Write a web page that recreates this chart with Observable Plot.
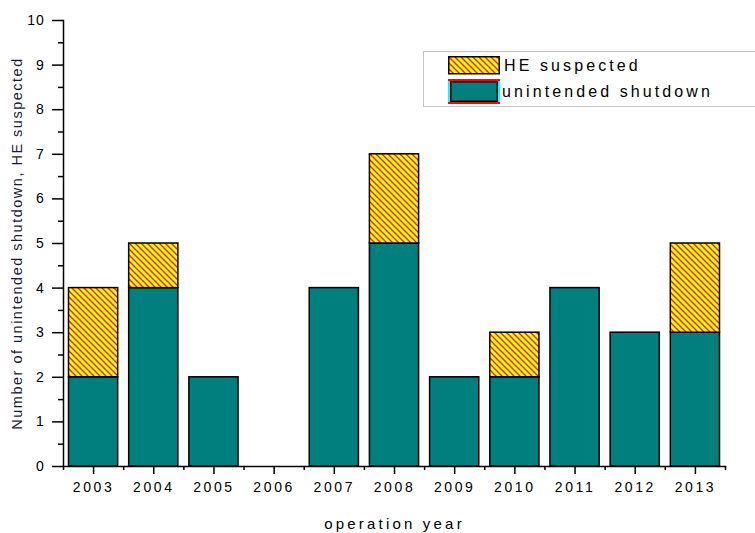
<!DOCTYPE html>
<html>
<head>
<meta charset="utf-8">
<script src="https://cdn.jsdelivr.net/npm/d3@7"></script>
<script src="https://cdn.jsdelivr.net/npm/@observablehq/plot@0.6"></script>
<style>
  html, body { margin: 0; padding: 0; background: #fff; }
  #wrap { position: relative; width: 755px; height: 533px; overflow: hidden; font-family: "Liberation Sans", Arial, sans-serif; }
  #wrap svg text { fill: #000; }
  #wrap svg g[aria-label="x-axis tick label"] text { letter-spacing: 2.6px; font-size: 14px; }
  #wrap svg g[aria-label="y-axis tick label"] text { letter-spacing: 0.8px; font-size: 14px; }
  #wrap svg g[aria-label="x-axis label"] text { letter-spacing: 3.2px; font-size: 15px; }
  #wrap svg g[aria-label="y-axis label"] text { font-size: 14.5px; letter-spacing: 1.5px; fill: #1a1a3a; }
  #legend { position: absolute; left: 423px; top: 51px; width: 400px; height: 56px; border: 1px solid #c4c4c4; box-sizing: border-box; }
  .row { position: absolute; left: 24px; display: flex; align-items: center; }
  .row span { font-size: 16px; letter-spacing: 3.1px; margin-left: 4px; color: #000; }
</style>
</head>
<body>
<div id="wrap">
  <div id="chart"></div>
  <div id="legend">
    <div class="row" style="top:4px">
      <svg width="52" height="19"><rect x="0.75" y="0.75" width="50.5" height="17" fill="url(#hatch)" stroke="#000" stroke-width="1.5"/></svg>
      <span>HE suspected</span>
    </div>
    <div class="row" style="top:27px">
      <svg width="52" height="25">
        <rect x="0" y="0" width="52" height="25" fill="#ff0000"/>
        <rect x="0" y="2" width="52" height="21" fill="#00ffff"/>
        <rect x="2" y="2" width="48" height="21" fill="#000"/>
        <rect x="3.5" y="3.5" width="45" height="18" fill="#007f7f"/>
      </svg>
      <span style="margin-left:2px">unintended shutdown</span>
    </div>
  </div>
</div>
<script>
const years = [2003, 2004, 2005, 2006, 2007, 2008, 2009, 2010, 2011, 2012, 2013];
const shutdown = [2, 4, 2, 0, 4, 5, 2, 2, 4, 3, 3];
const heSuspected = [2, 1, 0, 0, 0, 2, 0, 1, 0, 0, 2];
const yTicks = [0, 1, 2, 3, 4, 5, 6, 7, 8, 9, 10];

const rows = years.map((year, i) => ({year, s: shutdown[i], h: heSuspected[i]}));
const yMinor = d3.range(0.5, 10, 1);
const xMinor = d3.range(years[0] - 0.5, years[years.length - 1] + 1, 1);

const chart = Plot.plot({
  width: 755,
  height: 533,
  marginLeft: 63,
  marginRight: 30,
  marginTop: 20,
  marginBottom: 67,
  style: {fontFamily: "'Liberation Sans', Arial, sans-serif", background: "#fff"},
  x: {domain: [years[0] - 0.5, years[years.length - 1] + 0.5]},
  y: {domain: [0, 10]},
  marks: [
    Plot.rectY(rows.filter(d => d.s > 0), {
      x1: d => d.year - 0.5, x2: d => d.year + 0.5, y1: 0, y2: "s",
      insetLeft: 5.5, insetRight: 5.5,
      fill: "#007f7f", stroke: "#000", strokeWidth: 1.5
    }),
    Plot.rectY(rows.filter(d => d.h > 0), {
      x1: d => d.year - 0.5, x2: d => d.year + 0.5, y1: "s", y2: d => d.s + d.h,
      insetLeft: 5.5, insetRight: 5.5,
      fill: "url(#hatch)", stroke: "#000", strokeWidth: 1.5
    }),
    Plot.axisY({ticks: yMinor, tickSize: 5, text: null, label: null, strokeWidth: 1.5}),
    Plot.axisY({ticks: yTicks, tickSize: 11, tickPadding: 8, strokeWidth: 1.5, tickFormat: d => String(d),
      label: "Number of unintended shutdown, HE suspected", labelAnchor: "center", labelArrow: "none", labelOffset: 52}),
    Plot.axisX({ticks: xMinor, tickSize: 4, text: null, label: null, strokeWidth: 1.5}),
    Plot.axisX({ticks: years, tickSize: 8, tickPadding: 8, strokeWidth: 1.5, tickFormat: d => String(d),
      label: "operation year", labelAnchor: "center", labelArrow: "none", labelOffset: 62}),
    Plot.frame({anchor: "left", strokeWidth: 1.5}),
    Plot.frame({anchor: "bottom", strokeWidth: 1.5})
  ]
});

// hatch pattern definition
const defs = `<defs><pattern id="hatch" patternUnits="userSpaceOnUse" width="6" height="6">
  <rect width="6" height="6" fill="#ffff00"/>
  <path d="M-1,-1 L7,7 M-1,5 L1,7 M5,-1 L7,1" stroke="#ff1a00" stroke-width="1.4"/>
</pattern></defs>`;
chart.insertAdjacentHTML("afterbegin", defs);
document.getElementById("chart").appendChild(chart);
</script>
</body>
</html>
